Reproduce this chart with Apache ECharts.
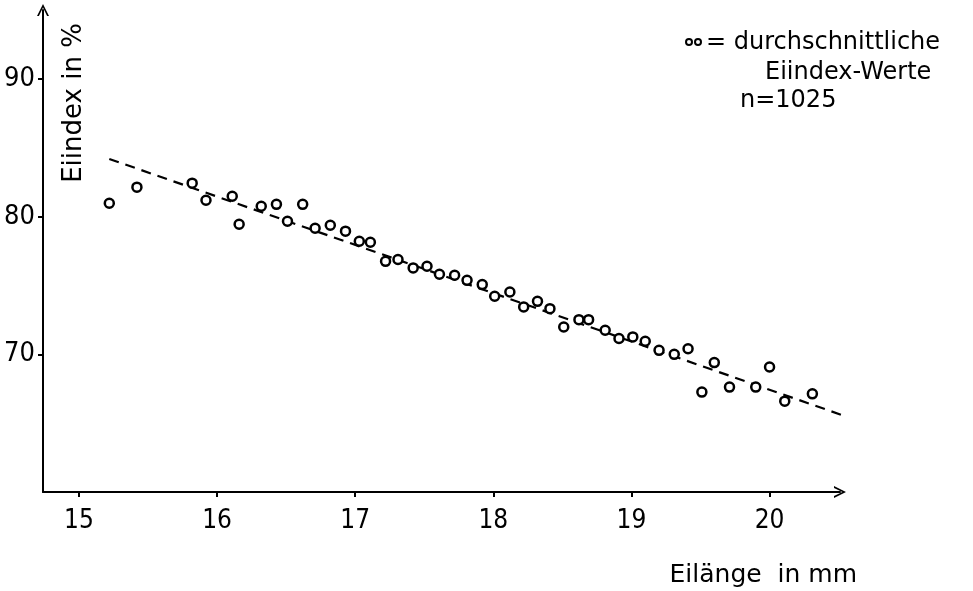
<!DOCTYPE html>
<html>
<head>
<meta charset="utf-8">
<script src="https://cdn.jsdelivr.net/npm/echarts@6/dist/echarts.min.js"></script>
<style>
  html, body { margin: 0; padding: 0; background: #fff; }
  #chart { width: 973px; height: 591px; }
</style>
</head>
<body>
<div id="chart"></div>
<script>
// Eilänge (mm) und durchschnittlicher Eiindex (%)
var eiLaenge = [15.22, 15.42, 15.82, 15.92, 16.11, 16.16, 16.32, 16.43, 16.51, 16.62,
    16.71, 16.82, 16.93, 17.03, 17.11, 17.22, 17.31, 17.42, 17.52, 17.61,
    17.72, 17.81, 17.92, 18.01, 18.12, 18.22, 18.32, 18.41, 18.51, 18.62,
    18.69, 18.81, 18.91, 19.01, 19.10, 19.20, 19.31, 19.41, 19.51, 19.60,
    19.71, 19.90, 20.00, 20.11, 20.31];
var eiIndex = [80.98, 82.15, 82.44, 81.2, 81.49, 79.45, 80.76, 80.9, 79.67, 80.9,
    79.16, 79.38, 78.95, 78.22, 78.15, 76.76, 76.89, 76.28, 76.4, 75.82,
    75.75, 75.38, 75.07, 74.22, 74.53, 73.45, 73.85, 73.32, 71.99, 72.52,
    72.52, 71.75, 71.15, 71.27, 70.95, 70.29, 70.0, 70.41, 67.26, 69.40,
    67.62, 67.62, 69.08, 66.6, 67.13];

// Regressionsgerade (gestrichelt)
var trendX = [15.22, 20.55];
var trendY = [84.2, 65.5];

var xTicks = [15, 16, 17, 18, 19, 20];
var yTicks = [70, 80, 90];

var zahlFont = "'Liberation Sans Narrow', 'DejaVu Sans Condensed', 'DejaVu Sans', sans-serif";
var textFont = "'DejaVu Sans', sans-serif";
var arrowPath = 'path://M5,0 L10,10 L8.4,10 L5,3 L1.6,10 L0,10 Z';

var punkte = [];
for (var i = 0; i < eiLaenge.length; i++) {
    punkte.push([eiLaenge[i], eiIndex[i]]);
}
var linie = [];
for (var i = 0; i < trendX.length; i++) {
    linie.push([trendX[i], trendY[i]]);
}

var option = {
    backgroundColor: '#fff',
    animation: false,
    grid: {
        left: 43,
        right: 133,
        top: 10,
        bottom: 99
    },
    xAxis: {
        type: 'value',
        min: 14.74,
        max: 20.51,
        axisLine: {
            lineStyle: {color: '#000', width: 2},
            symbol: ['none', arrowPath],
            symbolSize: [16, 12]
        },
        axisTick: {
            show: true,
            customValues: xTicks,
            length: 5,
            lineStyle: {color: '#000', width: 2}
        },
        axisLabel: {
            customValues: xTicks,
            margin: 16,
            color: '#000',
            fontSize: 26,
            fontFamily: zahlFont
        },
        splitLine: {show: false}
    },
    yAxis: {
        type: 'value',
        min: 60,
        max: 95.02,
        axisLine: {
            lineStyle: {color: '#000', width: 2},
            symbol: ['none', arrowPath],
            symbolSize: [16, 12]
        },
        axisTick: {
            show: true,
            customValues: yTicks,
            length: 5,
            lineStyle: {color: '#000', width: 2}
        },
        axisLabel: {
            customValues: yTicks,
            margin: 8,
            color: '#000',
            fontSize: 27,
            fontFamily: zahlFont
        },
        splitLine: {show: false}
    },
    graphic: [
        {
            type: 'text',
            x: 74,
            y: 103,
            rotation: Math.PI / 2,
            style: {
                text: 'Eiindex in %',
                align: 'center',
                verticalAlign: 'middle',
                fill: '#000',
                font: '26px ' + textFont
            }
        },
        {
            type: 'text',
            x: 857,
            y: 575,
            style: {
                text: 'Eilänge  in mm',
                align: 'right',
                verticalAlign: 'middle',
                fill: '#000',
                font: '25px ' + textFont
            }
        },
        {type: 'circle', shape: {cx: 689, cy: 42, r: 3}, style: {fill: '#fff', stroke: '#000', lineWidth: 2}},
        {type: 'circle', shape: {cx: 698, cy: 42, r: 3}, style: {fill: '#fff', stroke: '#000', lineWidth: 2}},
        {
            type: 'text',
            x: 706,
            y: 43,
            style: {
                text: '= durchschnittliche',
                verticalAlign: 'middle',
                fill: '#000',
                font: '24px ' + textFont
            }
        },
        {
            type: 'text',
            x: 765,
            y: 73,
            style: {
                text: 'Eiindex-Werte',
                verticalAlign: 'middle',
                fill: '#000',
                font: '24px ' + textFont
            }
        },
        {
            type: 'text',
            x: 740,
            y: 101,
            style: {
                text: 'n=1025',
                verticalAlign: 'middle',
                fill: '#000',
                font: '24px ' + textFont
            }
        }
    ],
    series: [
        {
            type: 'line',
            data: linie,
            symbol: 'none',
            clip: false,
            lineStyle: {color: '#000', width: 2.2, type: [10, 7]},
            z: 1
        },
        {
            type: 'scatter',
            data: punkte,
            symbol: 'circle',
            symbolSize: 9,
            itemStyle: {color: '#fff', borderColor: '#000', borderWidth: 2.5, opacity: 1},
            z: 2
        }
    ]
};

var myChart = echarts.init(document.getElementById('chart'));
myChart.setOption(option);
</script>
</body>
</html>
